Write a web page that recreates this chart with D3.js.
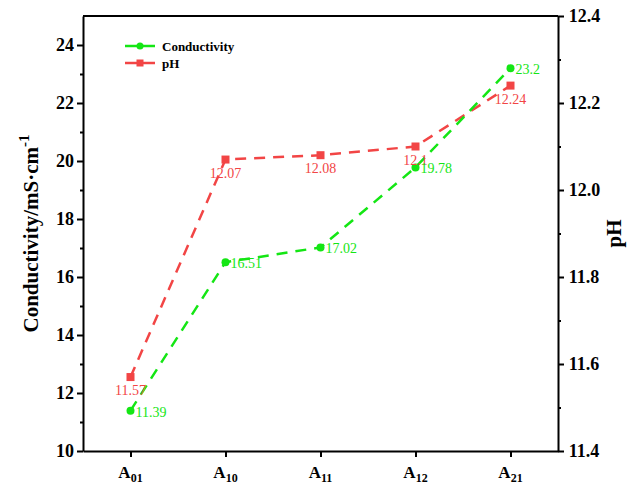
<!DOCTYPE html>
<html>
<head>
<meta charset="utf-8">
<script src="https://cdn.jsdelivr.net/npm/d3@7"></script>
<style>
  body { margin: 0; background: #fff; }
  text { font-family: "Liberation Serif", "Times New Roman", serif; }
</style>
</head>
<body>
<script>
// data
const samples = ["01", "10", "11", "12", "21"]; // subscripts of A
const conductivity = [11.39, 16.51, 17.02, 19.78, 23.2];
const pH = [11.57, 12.07, 12.08, 12.1, 12.24];
const condTicks = [10, 12, 14, 16, 18, 20, 22, 24];
const phTicks = [11.4, 11.6, 11.8, 12.0, 12.2, 12.4];

const green = "#14e614", red = "#f24545";

function drawChart() {
    let svg = d3.select("body").append("svg")
        .attr("width", 627)
        .attr("height", 486);

    let left = 83, right = 558, top = 16, bottom = 451;

    let x = d3.scaleLinear().domain([-0.5, samples.length - 0.5]).range([left, right]);
    let yC = d3.scaleLinear().domain([10, 25]).range([bottom, top]);
    let yP = d3.scaleLinear().domain([11.4, 12.4]).range([bottom, top]);

    // frame (top line)
    svg.append("line").attr("x1", left).attr("x2", right).attr("y1", top).attr("y2", top)
        .attr("stroke", "#000").attr("stroke-width", 2);

    // left axis
    let gl = svg.append("g").attr("transform", `translate(${left},0)`)
        .call(d3.axisLeft(yC).tickValues(condTicks).tickFormat(d3.format("d")).tickSize(6).tickSizeOuter(0));
    gl.append("g").call(d3.axisLeft(yC).tickValues(d3.range(11, 25, 2)).tickFormat("").tickSize(3).tickSizeOuter(0))
        .select(".domain").remove();

    // right axis
    let gr = svg.append("g").attr("transform", `translate(${right},0)`)
        .call(d3.axisRight(yP).tickValues(phTicks).tickFormat(d3.format(".1f")).tickSize(6).tickSizeOuter(0));
    gr.append("g").call(d3.axisRight(yP).tickValues([11.5, 11.7, 11.9, 12.1, 12.3]).tickFormat("").tickSize(3).tickSizeOuter(0))
        .select(".domain").remove();

    // bottom axis
    svg.append("g").attr("transform", `translate(0,${bottom})`)
        .call(d3.axisBottom(x).tickValues(d3.range(samples.length)).tickFormat("").tickSize(6).tickSizeOuter(0));

    svg.selectAll(".domain").attr("stroke-width", 2);
    svg.selectAll(".tick line").attr("stroke-width", 2);
    svg.selectAll(".tick text").attr("font-size", 18).attr("font-weight", "bold")
        .attr("font-family", "Liberation Serif").attr("fill", "#000");
    gr.selectAll(".tick text").attr("dx", "0.1em");

    // x tick labels with subscripts
    let xl = svg.selectAll(".xlab").data(samples).enter().append("text")
        .attr("class", "xlab")
        .attr("x", (d, i) => x(i))
        .attr("y", bottom + 27)
        .attr("text-anchor", "middle")
        .attr("font-size", 17).attr("font-weight", "bold");
    xl.append("tspan").text("A");
    xl.append("tspan").attr("font-size", 12).attr("dy", 4).text(d => d);

    // axis titles
    let tl = svg.append("text")
        .attr("transform", `translate(38,${(top + bottom) / 2}) rotate(-90)`)
        .attr("text-anchor", "middle")
        .attr("font-size", 21).attr("font-weight", "bold");
    tl.append("tspan").text("Conductivity/mS·cm");
    tl.append("tspan").attr("font-size", 15).attr("dy", -9).text("-1");

    svg.append("text")
        .attr("transform", `translate(621,${(top + bottom) / 2}) rotate(-90)`)
        .attr("text-anchor", "middle")
        .attr("font-size", 21).attr("font-weight", "bold")
        .text("pH");

    // lines
    let lineC = d3.line().x((d, i) => x(i)).y(d => yC(d));
    let lineP = d3.line().x((d, i) => x(i)).y(d => yP(d));

    svg.append("path").datum(pH).attr("d", lineP)
        .attr("fill", "none").attr("stroke", red).attr("stroke-width", 2.5)
        .attr("stroke-dasharray", "11,8");
    svg.append("path").datum(conductivity).attr("d", lineC)
        .attr("fill", "none").attr("stroke", green).attr("stroke-width", 2.5)
        .attr("stroke-dasharray", "11,8");

    // markers
    svg.selectAll(".sq").data(pH).enter().append("rect")
        .attr("x", (d, i) => x(i) - 4).attr("y", d => yP(d) - 4)
        .attr("width", 8).attr("height", 8).attr("fill", red);
    svg.selectAll(".dot").data(conductivity).enter().append("circle")
        .attr("cx", (d, i) => x(i)).attr("cy", d => yC(d))
        .attr("r", 4).attr("fill", green);

    // value labels
    svg.selectAll(".lp").data(pH).enter().append("text")
        .attr("x", (d, i) => x(i)).attr("y", d => yP(d) + 18)
        .attr("text-anchor", "middle").attr("font-size", 14).attr("fill", red)
        .text(d => d);
    svg.selectAll(".lc").data(conductivity).enter().append("text")
        .attr("x", (d, i) => x(i) + 5).attr("y", d => yC(d) + 6)
        .attr("font-size", 14).attr("fill", green)
        .text(d => d);

    // legend
    let leg = svg.append("g").attr("transform", "translate(125,46)");
    [["Conductivity", green, "circle"], ["pH", red, "rect"]].forEach((s, i) => {
        let g = leg.append("g").attr("transform", `translate(0,${i * 17})`);
        g.append("line").attr("x1", 0).attr("x2", 30).attr("stroke", s[1]).attr("stroke-width", 2.5);
        if (s[2] == "circle") g.append("circle").attr("cx", 15).attr("r", 3.5).attr("fill", s[1]);
        else g.append("rect").attr("x", 11.5).attr("y", -3.5).attr("width", 7).attr("height", 7).attr("fill", s[1]);
        g.append("text").attr("x", 37).attr("y", 4.5).attr("font-size", 13).attr("font-weight", "bold").text(s[0]);
    });
}

drawChart();
</script>
</body>
</html>
